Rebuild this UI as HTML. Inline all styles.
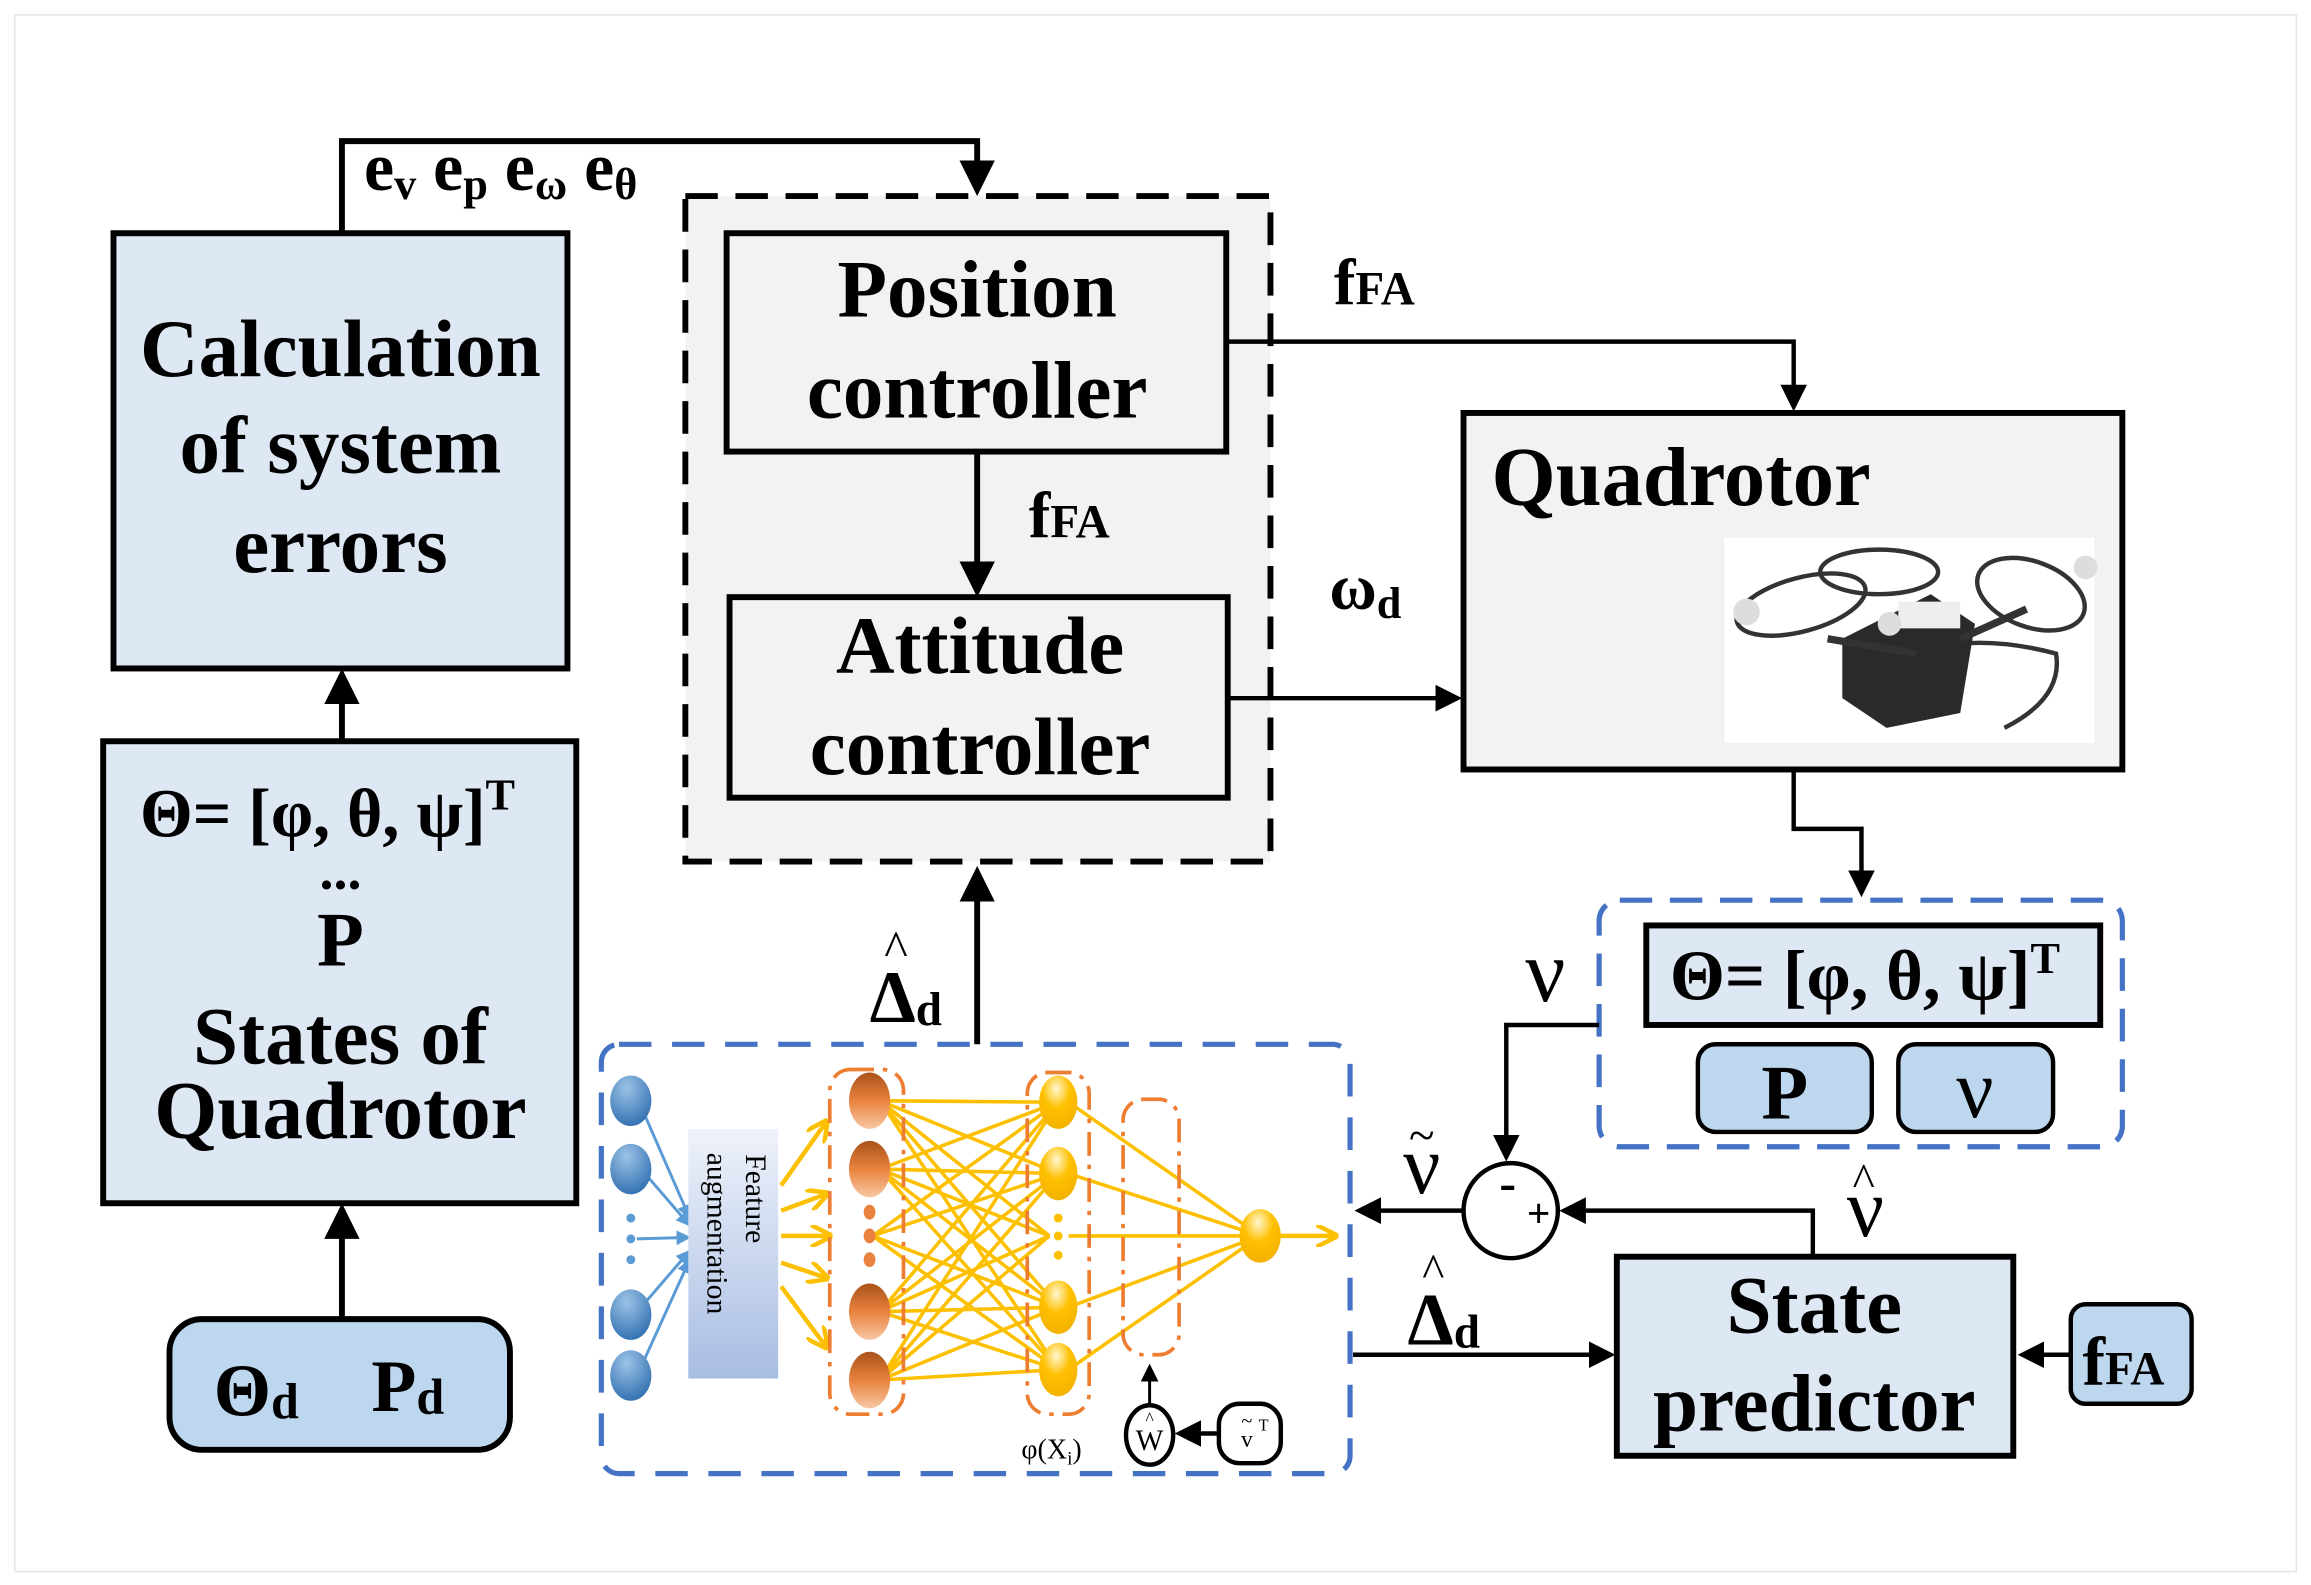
<!DOCTYPE html>
<html><head><meta charset="utf-8"><style>
html,body{margin:0;padding:0;background:#fff;}
svg{display:block;}
text{font-family:"Liberation Serif",serif;fill:#000;}
.b{font-weight:bold;}
.n{font-weight:normal;}
</style></head><body>
<svg width="2311" height="1585" viewBox="0 0 1568 1067" preserveAspectRatio="none" xmlns="http://www.w3.org/2000/svg">
<defs>
<marker id="ah" markerWidth="6" markerHeight="6" refX="5" refY="3" orient="auto" markerUnits="strokeWidth"><path d="M0,0 L6,3 L0,6 z" fill="#000"/></marker>
<marker id="ya" markerWidth="5" markerHeight="5" refX="4" refY="2.5" orient="auto" markerUnits="strokeWidth"><path d="M0,0 L5,2.5 L0,5" fill="none" stroke="#fcc000" stroke-width="1"/></marker>
<marker id="ba" markerWidth="5" markerHeight="5" refX="4.5" refY="2.5" orient="auto" markerUnits="strokeWidth"><path d="M0,0 L5,2.5 L0,5 z" fill="#5b9bd5"/></marker>
<radialGradient id="gb" cx="0.4" cy="0.25" r="0.8"><stop offset="0" stop-color="#9cc3e6"/><stop offset="1" stop-color="#2e6eb0"/></radialGradient>
<linearGradient id="go" x1="0" y1="0" x2="0" y2="1"><stop offset="0" stop-color="#a9521a"/><stop offset="0.5" stop-color="#e9823e"/><stop offset="1" stop-color="#f7c7a3"/></linearGradient>
<radialGradient id="gy" cx="0.45" cy="0.25" r="0.8"><stop offset="0" stop-color="#fff7d0"/><stop offset="0.45" stop-color="#ffc000"/><stop offset="1" stop-color="#f0b000"/></radialGradient>
<linearGradient id="gf" x1="0" y1="0" x2="0" y2="1"><stop offset="0" stop-color="#eef2fa"/><stop offset="1" stop-color="#a8bde3"/></linearGradient>
</defs>
<rect x="10" y="10" width="1548" height="1048" fill="#fff" stroke="#e6e6e6" stroke-width="1"/>

<g class="b">
<!-- Calculation box -->
<rect x="77" y="157" width="308" height="293" fill="#dde8f4" stroke="#000" stroke-width="4"/>
<text x="231" y="253" font-size="55" text-anchor="middle">Calculation</text>
<text x="231" y="318" font-size="55" text-anchor="middle">of system</text>
<text x="231" y="385" font-size="55" text-anchor="middle">errors</text>
<polyline points="232,157 232,95 663,95 663,128" fill="none" stroke="#000" stroke-width="4" marker-end="url(#ah)"/>
<text x="247" y="128" font-size="46">e<tspan font-size="30" dy="6">v</tspan><tspan dy="-6"> e</tspan><tspan font-size="30" dy="6">p</tspan><tspan dy="-6"> e</tspan><tspan font-size="30" dy="6">ω</tspan><tspan dy="-6"> e</tspan><tspan font-size="30" dy="6">θ</tspan></text>

<!-- dashed controller box -->
<rect x="465" y="132" width="397" height="448" fill="#f2f2f2" stroke="#000" stroke-width="4" stroke-dasharray="22,12"/>
<rect x="493" y="157" width="339" height="147" fill="#f2f2f2" stroke="#000" stroke-width="4"/>
<text x="663" y="213" font-size="55" text-anchor="middle">Position</text>
<text x="663" y="281" font-size="55" text-anchor="middle">controller</text>
<line x1="663" y1="304" x2="663" y2="398" stroke="#000" stroke-width="4" marker-end="url(#ah)"/>
<text x="698" y="362" font-size="44">f<tspan font-size="32">FA</tspan></text>
<rect x="495" y="402" width="338" height="135" fill="#f2f2f2" stroke="#000" stroke-width="4"/>
<text x="665" y="453" font-size="55" text-anchor="middle">Attitude</text>
<text x="665" y="521" font-size="55" text-anchor="middle">controller</text>

<polyline points="832,230 1217,230 1217,274" fill="none" stroke="#000" stroke-width="3" marker-end="url(#ah)"/>
<text x="905" y="205" font-size="44">f<tspan font-size="32">FA</tspan></text>
<line x1="833" y1="470" x2="989" y2="470" stroke="#000" stroke-width="3" marker-end="url(#ah)"/>
<text x="902" y="410" font-size="44">ω<tspan font-size="30" dy="6">d</tspan></text>

<!-- Quadrotor -->
<rect x="993" y="278" width="447" height="240" fill="#f2f2f2" stroke="#000" stroke-width="4"/>
<text x="1012" y="340" font-size="56">Quadrotor</text>
<rect x="1170" y="362" width="251" height="138" fill="#fff"/>
<g fill="none" stroke="#333" stroke-width="3">
<ellipse cx="1222" cy="407" rx="45" ry="18" transform="rotate(-15 1222 407)"/>
<ellipse cx="1275" cy="385" rx="40" ry="15"/>
<ellipse cx="1378" cy="400" rx="38" ry="22" transform="rotate(20 1378 400)"/>
<path d="M1265,455 Q1320,420 1395,440 Q1400,470 1360,490"/>
</g>
<polygon points="1250,430 1310,400 1340,420 1330,480 1280,490 1250,470" fill="#2a2a2a"/>
<rect x="1288" y="405" width="42" height="18" fill="#eee"/>
<circle cx="1185" cy="412" r="9" fill="#ddd"/><circle cx="1415" cy="382" r="8" fill="#ddd"/><circle cx="1282" cy="420" r="8" fill="#ddd"/>
<line x1="1240" y1="430" x2="1300" y2="440" stroke="#333" stroke-width="5"/>
<line x1="1330" y1="430" x2="1375" y2="410" stroke="#333" stroke-width="5"/>

<polyline points="1217,518 1217,558 1263,558 1263,601" fill="none" stroke="#000" stroke-width="3" marker-end="url(#ah)"/>

<!-- right blue dashed box -->
<rect x="1085" y="606" width="355" height="166" rx="14" fill="#fff" stroke="#4472c4" stroke-width="3.5" stroke-dasharray="22,12"/>
<rect x="1117" y="623" width="308" height="67" fill="#dde8f4" stroke="#000" stroke-width="4"/>
<text x="1133" y="673" font-size="48">Θ= [φ, θ, ψ]<tspan font-size="30" dy="-18">T</tspan></text>
<rect x="1152" y="703" width="118" height="59" rx="12" fill="#bdd7ee" stroke="#000" stroke-width="3"/>
<text x="1211" y="753" font-size="52" text-anchor="middle">P</text>
<rect x="1288" y="703" width="105" height="59" rx="12" fill="#bdd7ee" stroke="#000" stroke-width="3"/>
<text x="1340" y="752" font-size="56" text-anchor="middle" class="n">ν</text>

<text x="1035" y="674" font-size="60" class="n">ν</text>
<polyline points="1085,690 1022,690 1022,779" fill="none" stroke="#000" stroke-width="3" marker-end="url(#ah)"/>
<circle cx="1025" cy="815" r="32" fill="#fff" stroke="#000" stroke-width="3"/>
<text x="1023" y="808" font-size="34" text-anchor="middle">-</text>
<text x="1044" y="826" font-size="28" text-anchor="middle">+</text>
<polyline points="1230,845 1230,815 1061,815" fill="none" stroke="#000" stroke-width="3" marker-end="url(#ah)"/>
<text x="1253" y="832" font-size="56" class="n">ν</text><text x="1257" y="805" font-size="32" class="n">^</text>
<line x1="993" y1="815" x2="922" y2="815" stroke="#000" stroke-width="3" marker-end="url(#ah)"/>
<text x="952" y="803" font-size="56" class="n">ν</text><text x="956" y="775" font-size="32" class="n">~</text>
<text x="955" y="905" font-size="50">Δ<tspan font-size="32" dy="2">d</tspan></text><text x="965" y="866" font-size="32" class="n">^</text>
<line x1="918" y1="912" x2="1093" y2="912" stroke="#000" stroke-width="3" marker-end="url(#ah)"/>

<rect x="1097" y="846" width="269" height="134" fill="#dde8f4" stroke="#000" stroke-width="4"/>
<text x="1231" y="897" font-size="55" text-anchor="middle">State</text>
<text x="1231" y="963" font-size="55" text-anchor="middle">predictor</text>
<rect x="1405" y="878" width="82" height="67" rx="10" fill="#bdd7ee" stroke="#000" stroke-width="3"/>
<text x="1413" y="932" font-size="46">f<tspan font-size="32">FA</tspan></text>
<line x1="1405" y1="912" x2="1372" y2="912" stroke="#000" stroke-width="3" marker-end="url(#ah)"/>

<!-- States box -->
<rect x="70" y="499" width="321" height="311" fill="#dde8f4" stroke="#000" stroke-width="4"/>
<text x="95" y="563" font-size="46">Θ= [φ, θ, ψ]<tspan font-size="30" dy="-18">T</tspan></text>
<text x="231" y="598" font-size="38" text-anchor="middle">...</text>
<text x="231" y="650" font-size="52" text-anchor="middle">P</text>
<text x="231" y="716" font-size="55" text-anchor="middle">States of</text>
<text x="231" y="766" font-size="55" text-anchor="middle">Quadrotor</text>
<line x1="232" y1="499" x2="232" y2="454" stroke="#000" stroke-width="4" marker-end="url(#ah)"/>
<rect x="115" y="888" width="231" height="88" rx="22" fill="#bdd7ee" stroke="#000" stroke-width="4"/>
<text x="145" y="953" font-size="50">Θ<tspan font-size="34" dy="2">d</tspan></text>
<text x="252" y="950" font-size="50">P<tspan font-size="34" dy="2">d</tspan></text>
<line x1="232" y1="888" x2="232" y2="814" stroke="#000" stroke-width="4" marker-end="url(#ah)"/>

<line x1="663" y1="703" x2="663" y2="587" stroke="#000" stroke-width="4" marker-end="url(#ah)"/>
<text x="590" y="688" font-size="50">Δ<tspan font-size="32" dy="2">d</tspan></text><text x="600" y="650" font-size="34" class="n">^</text>
</g>

<!-- NN box -->
<rect x="408" y="703" width="508" height="289" rx="12" fill="none" stroke="#4472c4" stroke-width="3.5" stroke-dasharray="22,14"/>
<g stroke="#5b9bd5" stroke-width="2" marker-end="url(#ba)">
<line x1="435" y1="745" x2="468" y2="820"/><line x1="435" y1="787" x2="468" y2="825"/>
<line x1="432" y1="834" x2="468" y2="833"/><line x1="435" y1="880" x2="468" y2="842"/><line x1="435" y1="920" x2="468" y2="848"/>
</g>
<g fill="url(#gb)"><ellipse cx="428" cy="741" rx="14" ry="17"/><ellipse cx="428" cy="787" rx="14" ry="17"/><ellipse cx="428" cy="885" rx="14" ry="17"/><ellipse cx="428" cy="926" rx="14" ry="17"/></g>
<g fill="#5b9bd5"><circle cx="428" cy="820" r="3"/><circle cx="428" cy="834" r="3"/><circle cx="428" cy="848" r="3"/></g>
<rect x="467" y="760" width="61" height="168" fill="url(#gf)"/>
<text class="n" font-size="20" transform="translate(506,777) rotate(90)">Feature</text>
<text class="n" font-size="20" transform="translate(480,776) rotate(90)">augmentation</text>
<g stroke="#fcc000" stroke-width="3" marker-end="url(#ya)">
<line x1="530" y1="798" x2="560" y2="756"/><line x1="530" y1="815" x2="560" y2="804"/><line x1="530" y1="832" x2="562" y2="832"/><line x1="530" y1="850" x2="560" y2="860"/><line x1="530" y1="866" x2="560" y2="906"/>
</g>
<g stroke="#fcc000" stroke-width="2.4">
<path d="M597,741 L718,742 M597,741 L718,790 M597,741 L718,880 M597,741 L718,922 M597,741 L712,832
M597,787 L718,742 M597,787 L718,790 M597,787 L718,880 M597,787 L718,922 M597,787 L712,832
M597,883 L718,742 M597,883 L718,790 M597,883 L718,880 M597,883 L718,922 M597,883 L712,832
M597,929 L718,742 M597,929 L718,790 M597,929 L718,880 M597,929 L718,922 M597,929 L712,832
M592,832 L718,742 M592,832 L718,790 M592,832 L718,880 M592,832 L718,922"/>
<path d="M725,742 L855,832 M725,790 L855,832 M725,832 L855,832 M725,880 L855,832 M725,922 L855,832"/>
</g>
<line x1="866" y1="832" x2="905" y2="832" stroke="#fcc000" stroke-width="3" marker-end="url(#ya)"/>
<g fill="url(#go)"><ellipse cx="590" cy="741" rx="14" ry="19"/><ellipse cx="590" cy="787" rx="14" ry="19"/><ellipse cx="590" cy="883" rx="14" ry="19"/><ellipse cx="590" cy="929" rx="14" ry="19"/></g>
<g fill="#e9823e"><ellipse cx="590" cy="816" rx="4" ry="5"/><ellipse cx="590" cy="832" rx="4" ry="5"/><ellipse cx="590" cy="848" rx="4" ry="5"/></g>
<g fill="url(#gy)"><ellipse cx="718" cy="742" rx="13" ry="18"/><ellipse cx="718" cy="790" rx="13" ry="18"/><ellipse cx="718" cy="880" rx="13" ry="18"/><ellipse cx="718" cy="922" rx="13" ry="18"/><ellipse cx="855" cy="832" rx="14" ry="18"/></g>
<g fill="#fcc000"><circle cx="718" cy="820" r="3"/><circle cx="718" cy="832" r="3"/><circle cx="718" cy="845" r="3"/></g>
<g fill="none" stroke="#ed7d31" stroke-width="2.5" stroke-dasharray="16,6,3,6">
<rect x="563" y="720" width="50" height="232" rx="14"/>
<rect x="697" y="722" width="42" height="230" rx="14"/>
<rect x="762" y="740" width="38" height="172" rx="14"/>
</g>
<text x="693" y="982" font-size="19" class="n">φ(X<tspan font-size="13" dy="4">i</tspan><tspan dy="-4">)</tspan></text>
<ellipse cx="780" cy="966" rx="16" ry="20" fill="#fff" stroke="#000" stroke-width="3"/>
<text x="780" y="976" font-size="20" class="n" text-anchor="middle">W</text><text x="780" y="959" font-size="12" class="n" text-anchor="middle">^</text>
<line x1="780" y1="946" x2="780" y2="920" stroke="#000" stroke-width="2" marker-end="url(#ah)"/>
<rect x="827" y="945" width="42" height="40" rx="14" fill="#fff" stroke="#000" stroke-width="3"/>
<text x="846" y="974" font-size="16" class="n" text-anchor="middle">v</text><text x="846" y="961" font-size="14" class="n" text-anchor="middle">~</text><text x="854" y="963" font-size="11" class="n">T</text>
<line x1="827" y1="965" x2="800" y2="965" stroke="#000" stroke-width="3" marker-end="url(#ah)"/>
</svg>
</body></html>
